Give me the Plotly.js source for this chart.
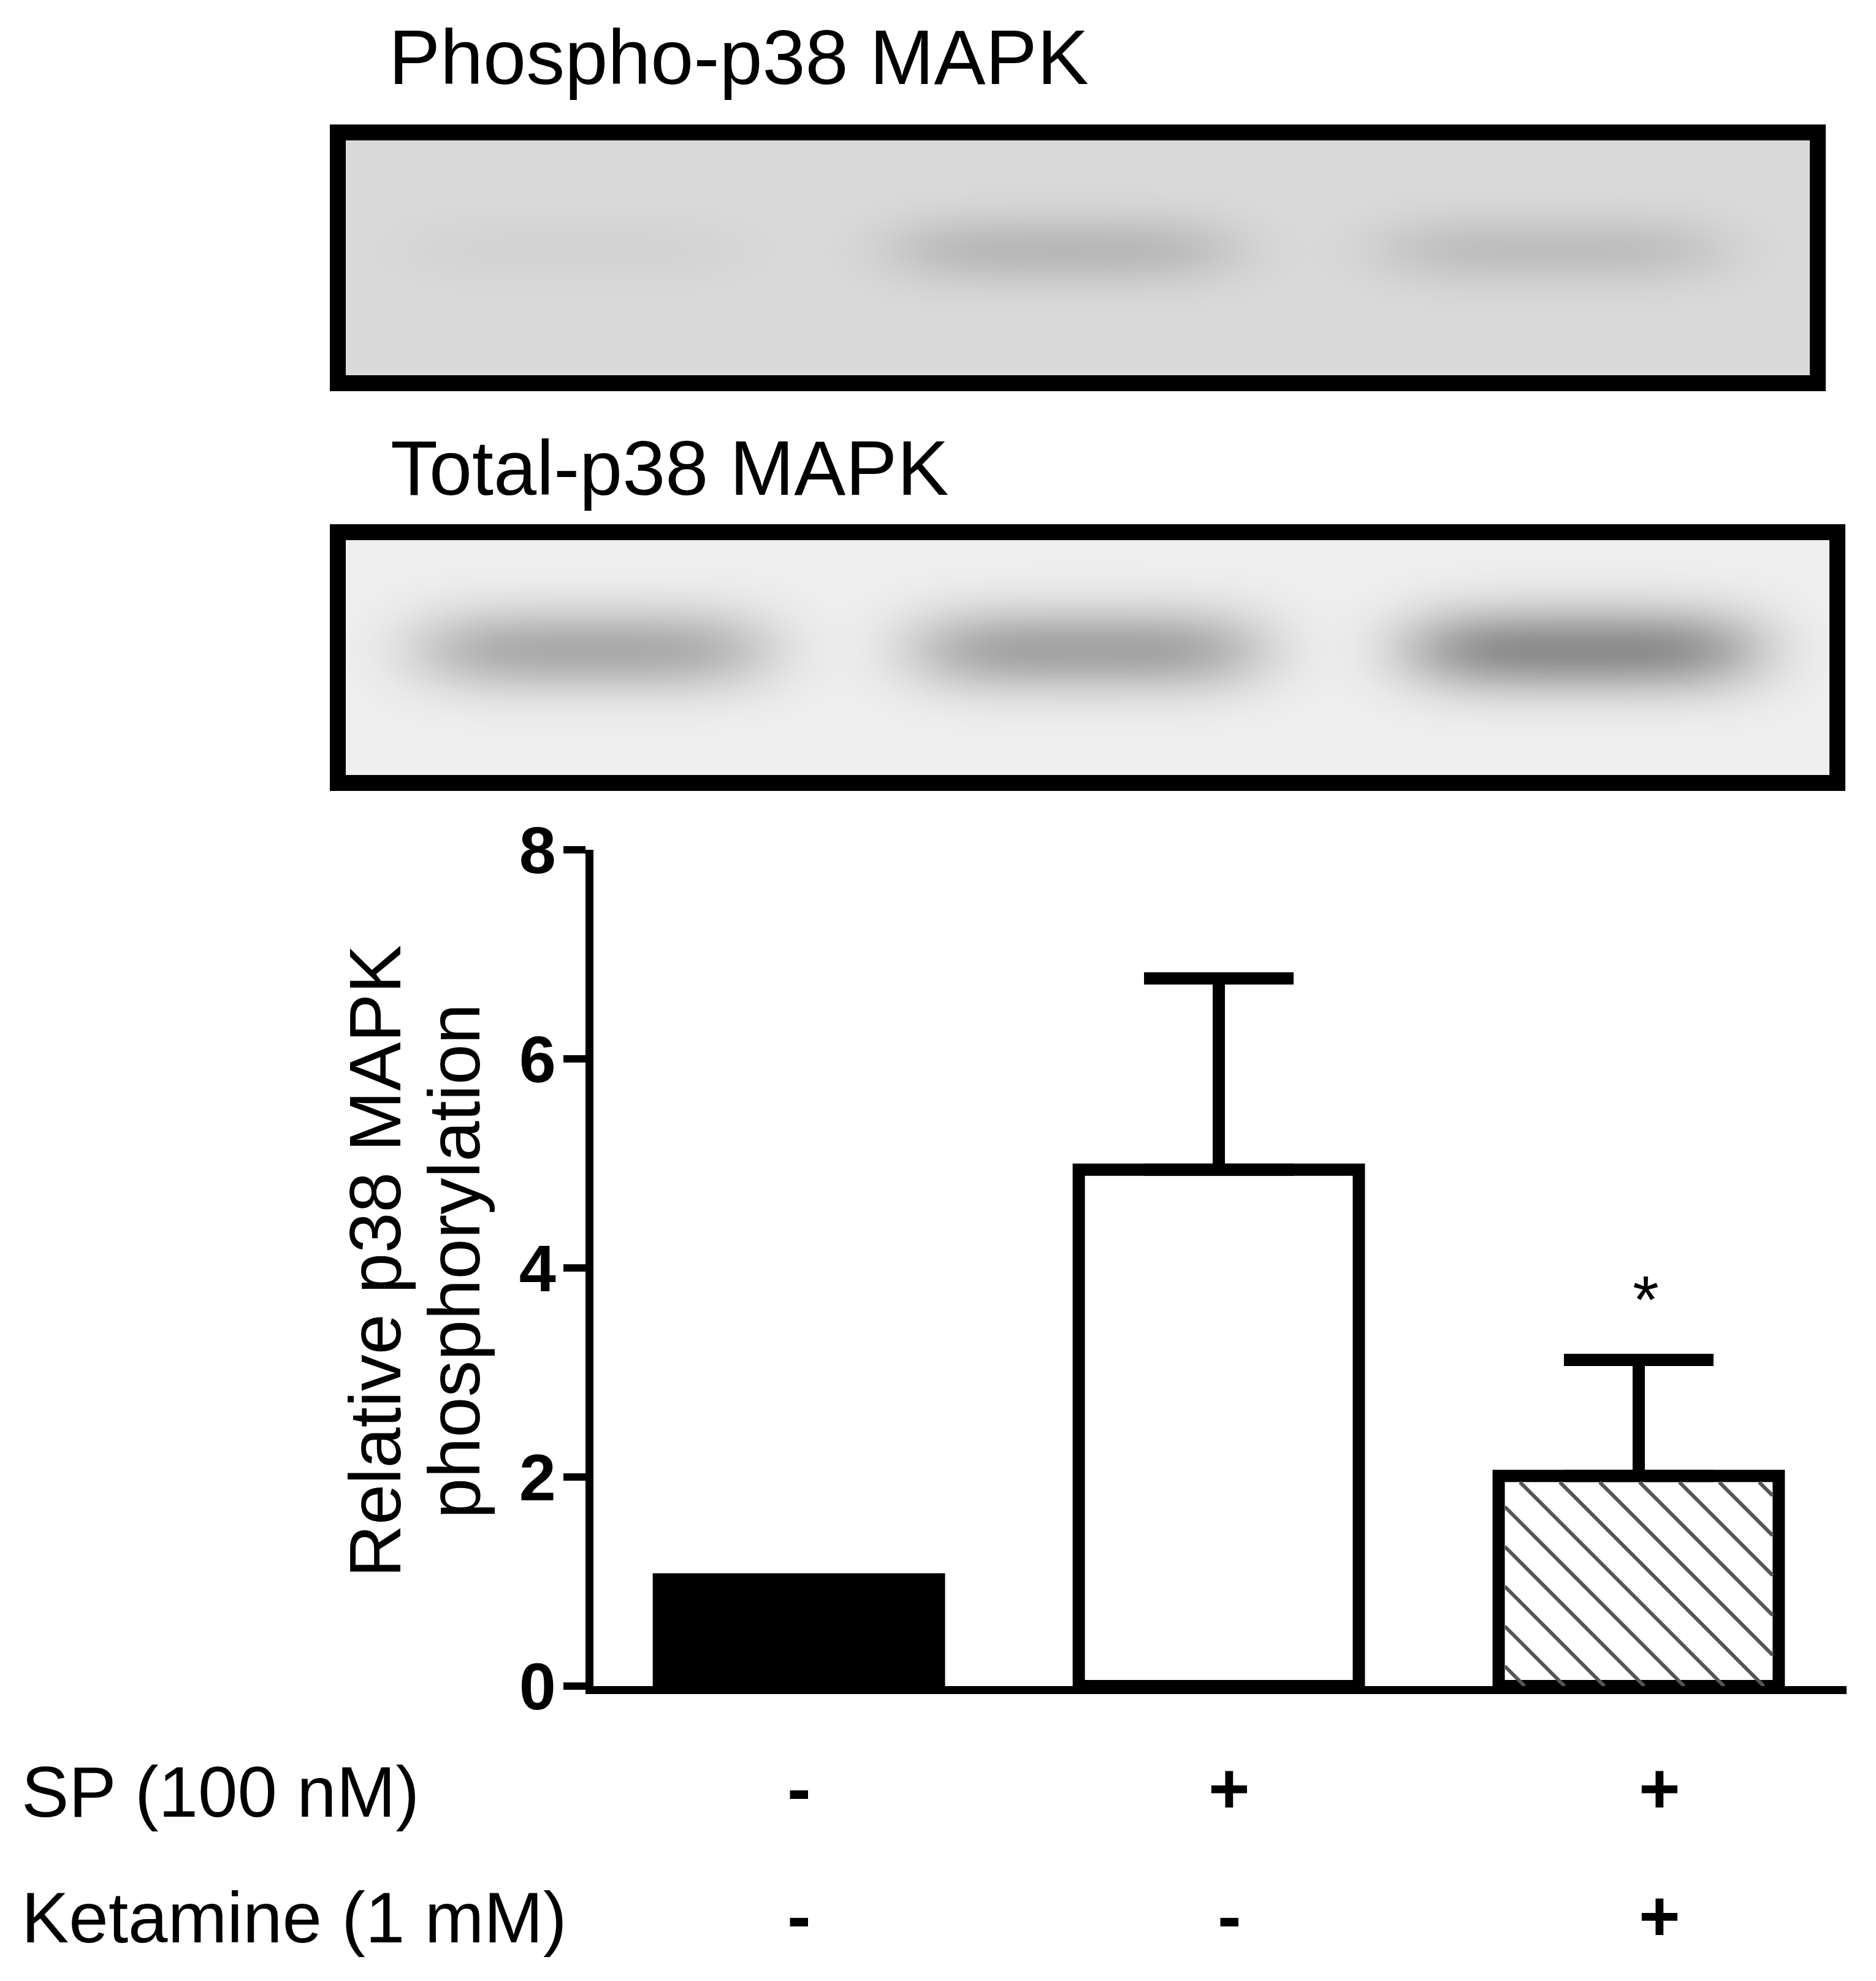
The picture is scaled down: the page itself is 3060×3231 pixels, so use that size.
<!DOCTYPE html>
<html>
<head>
<meta charset="utf-8">
<script src="https://cdn.plot.ly/plotly-3.0.1.min.js"></script>
<style>
  html, body { margin: 0; padding: 0; background: #ffffff; }
  #chart { width: 3060px; height: 3231px; }
</style>
</head>
<body>
<div id="chart"></div>
<script>
  // bar data (relative p38 MAPK phosphorylation, mean + SEM)
  const groups = ["Control", "SP", "SP + Ketamine"];
  const meanPhos = [1.02, 4.94, 2.01];
  const semPhos = [0, 1.83, 1.11];
  const barFill = ["#000000", "#ffffff", "#ffffff"];
  const hatched = [false, false, true];
  const yTicks = [0, 2, 4, 6, 8];

  // treatment rows under the axis
  const spRow = ["-", "+", "+"];
  const ketamineRow = ["-", "-", "+"];
  const sigMarks = ["", "", "*"];

  // blot band darkness (0 = white, 1 = black)
  const phosphoBg = 0.145;
  const phosphoBands = [0.03, 0.135, 0.11];
  const totalBg = 0.063;
  const totalBands = [0.27, 0.3, 0.39];

  const W = 3060, H = 3231;
  const px = (v) => v / W;
  const py = (v) => 1 - v / H;
  const FONT = "Arial, 'Liberation Sans', sans-serif";

  // bar panel geometry (pixels of the page)
  const X_RANGE = [-0.49, 2.495], X_PX = [967.5, 3012];
  const Y_RANGE = [0, 8], Y_PX = [2750, 1386];
  const BAR_W = 0.667, BAR_LINE = 20;
  const pxPerX = (X_PX[1] - X_PX[0]) / (X_RANGE[1] - X_RANGE[0]);
  const pxPerY = (Y_PX[0] - Y_PX[1]) / (Y_RANGE[1] - Y_RANGE[0]);

  // diagonal hatch ("\") inside a bar, as line segments in data units
  function hatchLines(i, step) {
    const inset = BAR_LINE / 2;
    const wb = BAR_W * pxPerX - 2 * inset;
    const hb = meanPhos[i] * pxPerY - inset;
    const x0 = i - BAR_W / 2 + inset / pxPerX;
    const yTop = meanPhos[i] - inset / pxPerY;
    const xs = [], ys = [];
    for (let c = -hb + step / 2; c < wb; c += step) {
      const ya = Math.max(0, -c), xa = c + ya;
      const xb = Math.min(wb, c + hb), yb = xb - c;
      if (xb <= xa) continue;
      xs.push(x0 + xa / pxPerX, x0 + xb / pxPerX, null);
      ys.push(yTop - ya / pxPerY, yTop - yb / pxPerY, null);
    }
    return { xs, ys };
  }

  // smooth blot image from the lane intensities
  function blotGrid(bg, bands, shift, yc, hh) {
    const xs = [], ys = [], z = [];
    for (let i = 0; i <= 150; i++) xs.push(i * 0.02);
    for (let j = 0; j <= 50; j++) ys.push(j * 0.02);
    ys.forEach((y) => {
      z.push(xs.map((x) => {
        let v = bg;
        bands.forEach((b, k) => {
          const dx = Math.abs(x - (k + 0.5 + shift)) / 0.36;
          const dy = (y - yc) / hh;
          v += b * Math.exp(-Math.pow(dx, 4)) * Math.exp(-dy * dy);
        });
        return v;
      }));
    });
    return { xs, ys, z };
  }

  const pg = blotGrid(phosphoBg, phosphoBands, -0.03, 0.535, 0.15);
  const tg = blotGrid(totalBg, totalBands, 0.0, 0.533, 0.18);
  const grayScale = [[0, "#ffffff"], [1, "#000000"]];

  const hx = [], hy = [];
  hatched.forEach((h, i) => {
    if (!h) return;
    const seg = hatchLines(i, 65);
    hx.push(...seg.xs);
    hy.push(...seg.ys);
  });

  const data = [
    {
      type: "bar",
      x: groups.map((g, i) => i),
      y: meanPhos,
      width: BAR_W,
      marker: { color: barFill, line: { color: "#000000", width: BAR_LINE } },
      error_y: {
        type: "data",
        symmetric: false,
        array: semPhos,
        arrayminus: [0, 0, 0],
        color: "#000000",
        thickness: 20,
        width: 122,
      },
      hovertemplate: "%{y:.2f}<extra></extra>",
    },
    {
      type: "scatter",
      mode: "lines",
      x: hx,
      y: hy,
      line: { color: "#555555", width: 6 },
      connectgaps: false,
      hoverinfo: "skip",
    },
    {
      type: "heatmap",
      x: pg.xs, y: pg.ys, z: pg.z,
      xaxis: "x2", yaxis: "y2",
      zmin: 0, zmax: 1, colorscale: grayScale,
      zsmooth: "best", showscale: false, hoverinfo: "skip",
    },
    {
      type: "heatmap",
      x: tg.xs, y: tg.ys, z: tg.z,
      xaxis: "x3", yaxis: "y3",
      zmin: 0, zmax: 1, colorscale: grayScale,
      zsmooth: "best", showscale: false, hoverinfo: "skip",
    },
  ];

  const hidden = { visible: false, fixedrange: true, showgrid: false, zeroline: false };

  const annotations = [
    { text: "Phospho-p38 MAPK", x: px(632), y: py(94), xanchor: "left", size: 126 },
    { text: "Total-p38 MAPK", x: px(635), y: py(764), xanchor: "left", size: 126 },
    { text: "Relative p38 MAPK", x: px(611), y: py(2057), textangle: -90, size: 119 },
    { text: "phosphorylation", x: px(740), y: py(2057), textangle: -90, size: 119 },
    { text: "SP (100 nM)", x: px(33), y: py(2923), xanchor: "left", size: 116 },
    { text: "Ketamine (1 mM)", x: px(33), y: py(3128), xanchor: "left", size: 116 },
  ].map((a) => ({
    text: a.text, x: a.x, y: a.y, xref: "paper", yref: "paper",
    xanchor: a.xanchor || "center", yanchor: "middle",
    textangle: a.textangle || 0, showarrow: false,
    font: { family: FONT, size: a.size, color: "#000000" },
  }));

  groups.forEach((g, i) => {
    annotations.push({
      text: spRow[i], x: i, y: py(2917), xref: "x", yref: "paper",
      showarrow: false, yanchor: "middle", xshift: i * 17,
      font: { family: FONT, size: 116, weight: "bold", color: "#000000" },
    });
    annotations.push({
      text: ketamineRow[i], x: i, y: py(3125), xref: "x", yref: "paper",
      showarrow: false, yanchor: "middle", xshift: i * 17,
      font: { family: FONT, size: 116, weight: "bold", color: "#000000" },
    });
    if (sigMarks[i]) {
      annotations.push({
        text: sigMarks[i], x: i, y: meanPhos[i] + semPhos[i], xref: "x", yref: "y",
        showarrow: false, yanchor: "middle", xshift: 12, yshift: 100,
        font: { family: FONT, size: 110, color: "#000000" },
      });
    }
  });

  const layout = {
    width: W,
    height: H,
    margin: { t: 0, b: 0, l: 0, r: 0 },
    paper_bgcolor: "#ffffff",
    plot_bgcolor: "rgba(0,0,0,0)",
    font: { family: FONT, color: "#000000" },
    showlegend: false,
    xaxis: {
      domain: [px(X_PX[0]), px(X_PX[1])],
      range: X_RANGE,
      showline: true, linecolor: "#000000", linewidth: 13,
      showticklabels: false, ticks: "", showgrid: false, zeroline: false, fixedrange: true,
    },
    yaxis: {
      domain: [py(Y_PX[0]), py(Y_PX[1])],
      range: Y_RANGE,
      tickvals: yTicks,
      ticks: "outside", ticklen: 36, tickwidth: 12, tickcolor: "#000000",
      ticklabelstandoff: -10,
      showline: true, linecolor: "#000000", linewidth: 13,
      tickfont: { family: FONT, size: 108, weight: "bold", color: "#000000" },
      showgrid: false, zeroline: false, fixedrange: true,
    },
    xaxis2: Object.assign({ domain: [px(564), px(2952)], range: [0, 3], anchor: "y2" }, hidden),
    yaxis2: Object.assign({ domain: [py(612), py(229)], range: [0, 1], anchor: "x2" }, hidden),
    xaxis3: Object.assign({ domain: [px(564), px(2984)], range: [0, 3], anchor: "y3" }, hidden),
    yaxis3: Object.assign({ domain: [py(1264), py(881)], range: [0, 1], anchor: "x3" }, hidden),
    shapes: [
      {
        type: "rect", xref: "paper", yref: "paper",
        x0: px(551), x1: px(2965), y0: py(625), y1: py(216),
        line: { color: "#000000", width: 26 },
      },
      {
        type: "rect", xref: "paper", yref: "paper",
        x0: px(551), x1: px(2997), y0: py(1277), y1: py(868),
        line: { color: "#000000", width: 26 },
      },
    ],
    annotations: annotations,
  };

  Plotly.newPlot("chart", data, layout, { displayModeBar: false, staticPlot: true });
</script>
</body>
</html>
